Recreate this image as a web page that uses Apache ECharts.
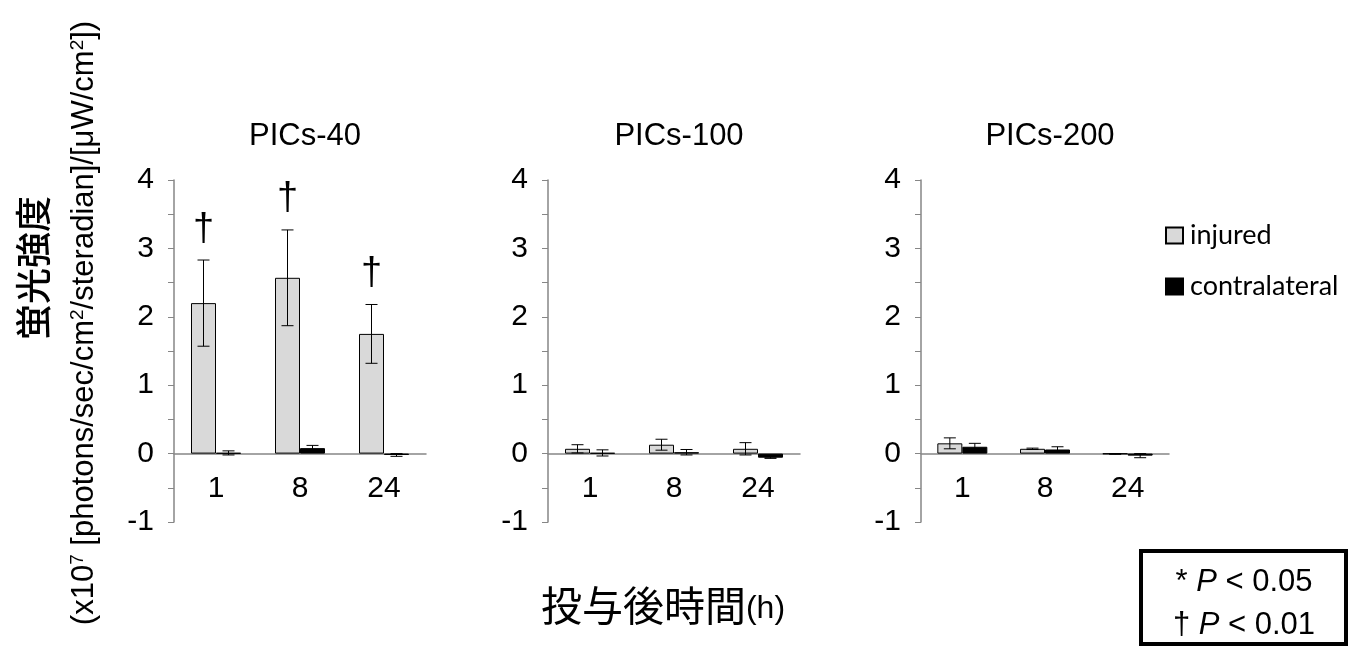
<!DOCTYPE html>
<html>
<head>
<meta charset="utf-8">
<script src="https://cdn.jsdelivr.net/npm/echarts@6/dist/echarts.min.js"></script>
<style>
  html, body { margin: 0; padding: 0; background: #fff; }
  #main { width: 1356px; height: 651px; }
</style>
</head>
<body>
<div id="main"></div>
<script>
// data
const categories = ['1', '8', '24'];
const panelTitles = ['PICs-40', 'PICs-100', 'PICs-200'];
const injured = [[2.2, 2.57, 1.75], [0.07, 0.13, 0.07], [0.15, 0.07, -0.005]];
const injuredErr = [[0.63, 0.7, 0.43], [0.06, 0.08, 0.09], [0.08, 0.01, 0.005]];
const contralateral = [[0.01, 0.08, -0.02], [0.01, 0.02, -0.06], [0.1, 0.06, -0.03]];
const contralateralErr = [[0.03, 0.04, 0.02], [0.045, 0.04, 0.01], [0.05, 0.04, 0.03]];
const marks = [['†', '†', '†'], ['', '', ''], ['', '', '']];
const yMin = -1, yMax = 4, yInterval = 0.5;

const axisColor = '#868686';
const font = '"Liberation Sans", Arial, sans-serif';
const grids = [
  { left: 174, width: 252 },
  { left: 548, width: 252 },
  { left: 921, width: 248 }
];

let myChart = echarts.init(document.getElementById('main'));

function errorSeries(p, means, errs, offset, withMarks) {
  return {
    type: 'custom',
    xAxisIndex: p,
    yAxisIndex: p,
    z: 5,
    silent: true,
    encode: { x: 0, y: 1 },
    data: means.map((m, i) => [i, m, errs[i]]),
    renderItem: function (params, api) {
      const idx = api.value(0);
      const mean = api.value(1);
      const err = api.value(2);
      const x = api.coord([idx, mean])[0] + offset;
      const hi = api.coord([idx, mean + err])[1];
      const lo = api.coord([idx, mean - err])[1];
      const cap = 6;
      const style = { stroke: '#000', lineWidth: 1 };
      const children = [
        { type: 'line', shape: { x1: x, y1: hi, x2: x, y2: lo }, style: style },
        { type: 'line', shape: { x1: x - cap, y1: hi, x2: x + cap, y2: hi }, style: style },
        { type: 'line', shape: { x1: x - cap, y1: lo, x2: x + cap, y2: lo }, style: style }
      ];
      const mark = withMarks ? marks[p][idx] : '';
      if (mark) {
        children.push({
          type: 'text',
          style: {
            x: x, y: hi - 12, text: mark, fill: '#000',
            font: '38px ' + font, align: 'center', verticalAlign: 'bottom'
          }
        });
      }
      return { type: 'group', children: children };
    }
  };
}

const series = [];
panelTitles.forEach((t, p) => {
  series.push({
    name: 'injured', type: 'bar', xAxisIndex: p, yAxisIndex: p,
    data: injured[p], barWidth: 25, barGap: '0%',
    itemStyle: { color: '#d9d9d9', borderColor: '#000', borderWidth: 1 }
  });
  series.push({
    name: 'contralateral', type: 'bar', xAxisIndex: p, yAxisIndex: p,
    data: contralateral[p], barWidth: 25, barGap: '0%',
    itemStyle: { color: '#000', borderColor: '#000', borderWidth: 1 }
  });
  series.push(errorSeries(p, injured[p], injuredErr[p], -12.5, true));
  series.push(errorSeries(p, contralateral[p], contralateralErr[p], 12.5, false));
});

myChart.setOption({
  animation: false,
  title: panelTitles.map((t, p) => ({
    text: t,
    left: grids[p].left + grids[p].width / 2,
    top: 116,
    textAlign: 'center',
    textStyle: { fontFamily: font, fontSize: 31, fontWeight: 'normal', color: '#000' }
  })),
  legend: {
    data: ['injured', 'contralateral'],
    orient: 'vertical',
    left: 1160,
    top: 217,
    itemWidth: 17,
    itemHeight: 16,
    itemGap: 24,
    icon: 'rect',
    textStyle: { fontFamily: 'Lato, "Open Sans", sans-serif', fontSize: 27, color: '#000', padding: [0, 0, 0, 2] }
  },
  grid: grids.map(g => ({ left: g.left, width: g.width, top: 180, height: 342 })),
  xAxis: grids.map((g, p) => ({
    type: 'category',
    gridIndex: p,
    data: categories,
    axisLine: { onZero: true, lineStyle: { color: axisColor, width: 1.5 } },
    axisTick: { length: 8, lineStyle: { color: axisColor } },
    axisLabel: { margin: -48, fontFamily: font, fontSize: 30, color: '#000' }
  })),
  yAxis: grids.map((g, p) => ({
    type: 'value',
    gridIndex: p,
    min: yMin,
    max: yMax,
    interval: yInterval,
    axisLine: { show: true, lineStyle: { color: axisColor, width: 1.5 } },
    axisTick: { show: true, length: 6, lineStyle: { color: axisColor } },
    splitLine: { show: false },
    axisLabel: {
      margin: 20, fontFamily: font, fontSize: 30, color: '#000',
      formatter: v => Number.isInteger(v) ? String(v) : ''
    }
  })),
  series: series,
  graphic: [
    {
      type: 'text', x: 33, y: 268, rotation: Math.PI / 2,
      style: {
        text: '蛍光強度', fill: '#000', align: 'center', verticalAlign: 'middle',
        font: '500 36px "Noto Sans CJK JP", sans-serif'
      }
    },
    {
      type: 'text', x: 84, y: 323, rotation: Math.PI / 2,
      style: {
        text: '(x10{sup|7} [photons/sec/cm{sup|2}/steradian]/[μW/cm{sup|2}])',
        fill: '#000', align: 'center', verticalAlign: 'middle',
        font: '31px ' + font,
        rich: { sup: { fontSize: 19, fontFamily: font, padding: [0, 0, 13, 0], fill: '#000' } }
      }
    },
    {
      type: 'text', x: 663, y: 605,
      style: {
        text: '投与後時間{h|(h)}', fill: '#000', align: 'center', verticalAlign: 'middle',
        font: '41px "Noto Sans CJK JP", sans-serif',
        rich: { h: { fontSize: 32, fontFamily: '"Liberation Sans Narrow", ' + font, padding: [8, 0, 0, 0], fill: '#000' } }
      }
    },
    {
      type: 'rect', shape: { x: 1141, y: 551, width: 205, height: 93 },
      style: { fill: '#fff', stroke: '#000', lineWidth: 4 }
    },
    {
      type: 'text', x: 1244, y: 582,
      style: {
        text: '* {i|P} < 0.05', fill: '#000', align: 'center', verticalAlign: 'middle',
        font: '31px ' + font,
        rich: { i: { fontStyle: 'italic', fontSize: 31, fontFamily: font, fill: '#000' } }
      }
    },
    {
      type: 'text', x: 1244, y: 625,
      style: {
        text: '† {i|P} < 0.01', fill: '#000', align: 'center', verticalAlign: 'middle',
        font: '31px ' + font,
        rich: { i: { fontStyle: 'italic', fontSize: 31, fontFamily: font, fill: '#000' } }
      }
    }
  ]
});
</script>
</body>
</html>
